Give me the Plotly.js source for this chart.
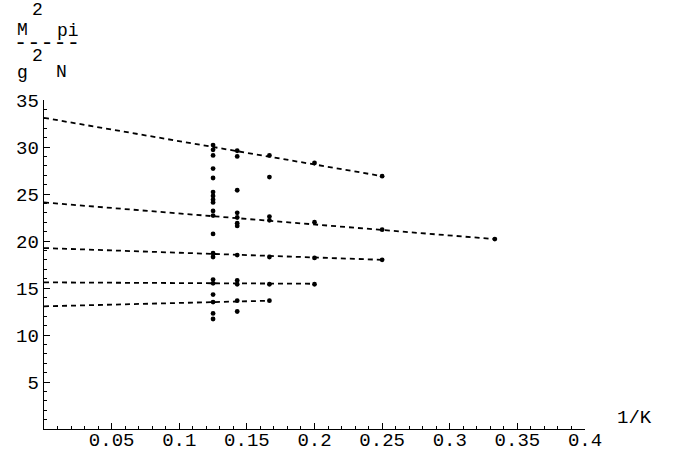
<!DOCTYPE html>
<html><head><meta charset="utf-8">
<script src="https://cdn.plot.ly/plotly-3.0.1.min.js"></script>
<style>html,body{margin:0;padding:0;background:#fff}#chart{width:673px;height:455px}</style>
</head><body><div id="chart"></div>
<script>
// Data: K values (x = 1/K) and measured points per K
const kValues = [8, 7, 6, 5, 4, 3];
const ptsK8 = [30.2, 29.7, 29.1, 27.7, 26.7, 25.2, 24.8, 24.4, 24.1, 23.2, 22.7, 20.75, 18.7, 18.3, 15.9, 15.5, 14.3, 13.5, 12.3, 11.7];
const ptsK7 = [29.6, 29.0, 25.4, 23.0, 22.5, 21.9, 21.6, 18.5, 15.8, 15.4, 13.65, 12.5];
const ptsK6 = [29.1, 26.8, 22.6, 22.2, 18.3, 15.4, 13.65];
const ptsK5 = [28.3, 22.0, 18.2, 15.4];
const ptsK4 = [26.9, 21.2, 18.0];
const ptsK3 = [20.2];

// Extrapolation lines (from 1/K = 0 to last K)
const fitStartY = [33.1, 24.1, 19.25, 15.6, 13.05];
const fitEndK   = [4, 3, 4, 5, 6];
const fitEndY   = [26.9, 20.2, 18.0, 15.45, 13.65];

// Ticks
const xTickVals = [0.05, 0.1, 0.15, 0.2, 0.25, 0.3, 0.35, 0.4];
const xTickText = ["0.05", "0.1", "0.15", "0.2", "0.25", "0.3", "0.35", "0.4"];
const yTickVals = [5, 10, 15, 20, 25, 30, 35];
const yTickText = ["5", "10", "15", "20", "25", "30", "35"];

const allPts = [ptsK8, ptsK7, ptsK6, ptsK5, ptsK4, ptsK3];
const px = [], py = [];
allPts.forEach((arr, i) => arr.forEach(v => { px.push(1 / kValues[i]); py.push(v); }));

const traces = [];
for (let i = 0; i < fitStartY.length; i++) {
  traces.push({
    x: [0, 1 / fitEndK[i]], y: [fitStartY[i], fitEndY[i]],
    mode: 'lines', type: 'scatter', hoverinfo: 'skip',
    line: {color: 'black', width: 1.8, dash: '5px,4px'}
  });
}
traces.push({x: px, y: py, mode: 'markers', type: 'scatter',
  marker: {color: 'black', size: 4.8}});

const L = 44, R = 88, T = 100, B = 26, W = 673, H = 455;
const pw = W - L - R, ph = H - T - B;
const pX = p => (p - L) / pw;
const pY = p => (H - B - p) / ph;
const fnt = {family: 'Liberation Mono, monospace', size: 19, color: 'black'};

function ann(text, x, y, size) {
  return {text: text, xref: 'paper', yref: 'paper', x: pX(x), y: pY(y),
    xanchor: 'center', yanchor: 'middle', showarrow: false,
    font: Object.assign({}, fnt, {size: size || 18})};
}

const axisCommon = {
  showgrid: false, zeroline: false, showline: true, linecolor: 'black', linewidth: 1.3,
  ticks: 'inside', ticklen: 6, tickcolor: 'black', tickwidth: 1,
  tickmode: 'array', tickfont: fnt, fixedrange: true
};

const layout = {
  width: W, height: H, margin: {l: L, r: R, t: T, b: B},
  paper_bgcolor: 'white', plot_bgcolor: 'white', showlegend: false,
  font: fnt,
  xaxis: Object.assign({}, axisCommon, {range: [0, 0.4], tickvals: xTickVals, ticktext: xTickText,
    ticklabelstandoff: -7,
    minor: {dtick: 0.01, tick0: 0, ticks: 'inside', ticklen: 3, tickcolor: 'black', showgrid: false}}),
  yaxis: Object.assign({}, axisCommon, {range: [0, 35], tickvals: yTickVals, ticktext: yTickText,
    minor: {dtick: 1, tick0: 0, ticks: 'inside', ticklen: 3, tickcolor: 'black', showgrid: false}}),
  annotations: [
    ann('2', 37, 10),
    ann('M', 22, 30),
    ann('pi', 68, 31),
    ann('-----', 47, 44, 22),
    ann('2', 37, 56),
    ann('g', 22, 73),
    ann('N', 61, 72),
    {text: '1/K', xref: 'paper', yref: 'paper', x: 1, y: 0, xanchor: 'left', yanchor: 'bottom',
     xshift: 30, yshift: -2, showarrow: false, font: fnt}
  ]
};

Plotly.newPlot('chart', traces, layout, {displayModeBar: false, staticPlot: true});
</script>
</body></html>
